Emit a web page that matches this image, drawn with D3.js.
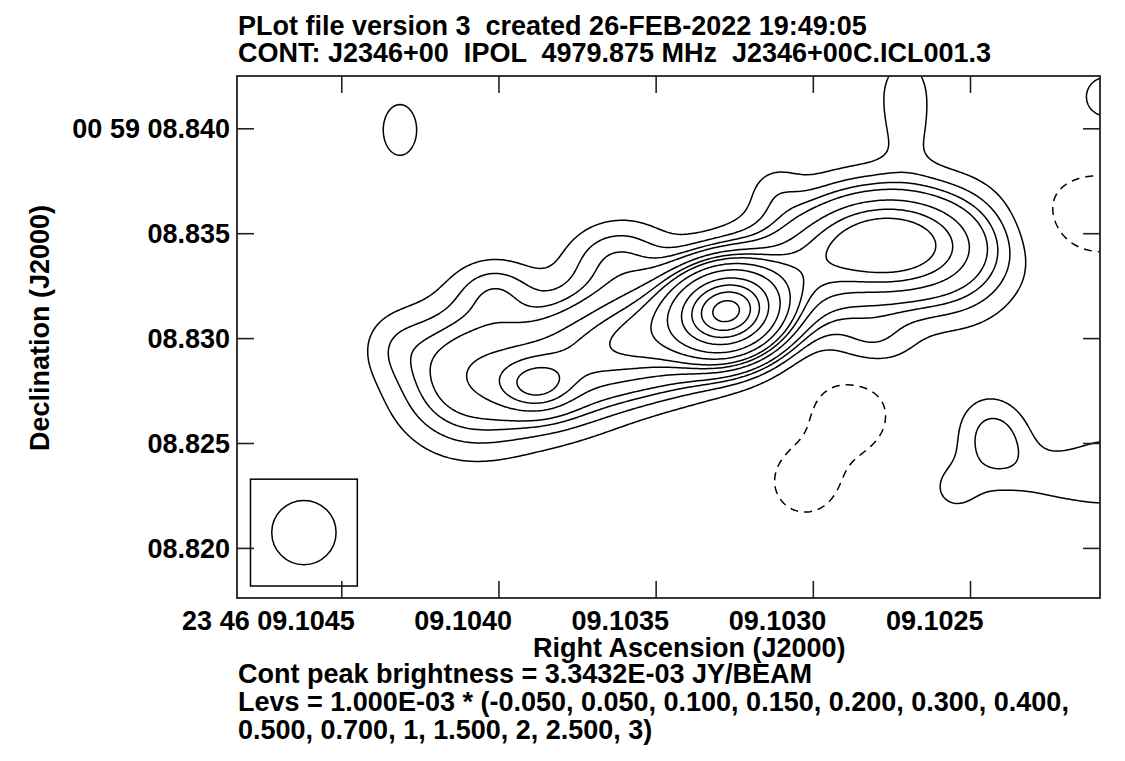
<!DOCTYPE html>
<html><head><meta charset="utf-8">
<script src="https://cdn.jsdelivr.net/npm/d3@7"></script>
<style>
body{margin:0;background:#fff}
text{font-family:"Liberation Sans",Arial,Helvetica,sans-serif;font-weight:bold;font-size:27px;fill:#000;white-space:pre}
</style></head><body>
<svg id="c" width="1125" height="761"></svg>
<script>
// ---------- data ----------
const titleLines = ["PLot file version 3  created 26-FEB-2022 19:49:05",
                    "CONT: J2346+00  IPOL  4979.875 MHz  J2346+00C.ICL001.3"];
const footLines = ["Cont peak brightness = 3.3432E-03 JY/BEAM",
                   "Levs = 1.000E-03 * (-0.050, 0.050, 0.100, 0.150, 0.200, 0.300, 0.400,",
                   "0.500, 0.700, 1, 1.500, 2, 2.500, 3)"];
const xTitle = "Right Ascension (J2000)";
const yTitle = "Declination (J2000)";
const raTicks = [9.1045, 9.1040, 9.1035, 9.1030, 9.1025];          // seconds of RA (23h46m)
const raTickLabels = ["23 46 09.1045", "09.1040", "09.1035", "09.1030", "09.1025"];
const decTicks = [8.840, 8.835, 8.830, 8.825, 8.820];              // arcsec of Dec (00d59')
const decTickLabels = ["00 59 08.840", "08.835", "08.830", "08.825", "08.820"];
const raRange = [9.1048317, 9.1020865];
const decRange = [8.817612, 8.842493];
const decDeg = 59/60 + 8.83/3600;
const coreRA = 9.1032732, coreDec = 8.8312917;
const levels = [-0.05, 0.05, 0.1, 0.15, 0.2, 0.3, 0.4, 0.5, 0.7, 1, 1.5, 2, 2.5, 3]; // x 1e-3 Jy/beam
const beamMaj = 3.07, beamMin = 3.07, beamPA = 0; // mas
// source model components: offsets from core (mas, east / north), sigma (mas), PA (deg), amplitude (mJy/beam)
const compAmp = [2.75, 0.40, 0.26, 0.25, 0.15, 0.24, 0.25, 0.10, 0.12, 0.18, 0.33, 0.32, 0.06, 0.05, 0.07, 0.04, 0.065, 0.07, 0.13, 0.06, 0.065, 0.07, -0.10, -0.09, -0.085, 0.08, 0.05];
const compDx  = [0, 0.72, 12.26, 9.07, 8.68, 6.30, 3.44, 11.07, 5.34, -3.01, -7.49, -7.78, -11.35, -2.29, -8.49, -8.59, 15.60, -18.08, -12.79, -10.88, -15.89, -18.51, -17.70, -5.87, -3.72, -6.92, 15.84];
const compDy  = [0, -0.33, -3.10, -3.57, -2.91, -1.76, -0.91, 1.00, 2.67, 1.38, 3.24, 3.05, 1.95, 5.77, 10.53, 8.39, 8.63, 10.20, -6.15, -8.44, -7.86, -7.58, 4.62, -4.96, -8.15, -1.38, -1.62];
const compMaj = [1.48, 2.86, 2.29, 1.19, 2.15, 2.15, 2.15, 1.34, 1.67, 1.91, 2.62, 3.10, 2.15, 0.95, 1.43, 1.19, 1.67, 1.14, 1.43, 1.05, 1.67, 1.43, 2.29, 1.57, 1.38, 1.43, 1.19];
const compMin = [1.19, 1.67, 2.19, 0.86, 1.91, 1.81, 1.67, 1.05, 1.19, 1.53, 1.53, 1.91, 1.91, 0.95, 1.05, 0.95, 1.10, 1.14, 1.19, 1.05, 1.05, 1.43, 1.57, 1.57, 1.38, 1.05, 1.19];
const compPA  = [100, 110, 90, 90, 90, 115, 110, 90, 100, 110, 90, 92, 0, 0, 0, 0, 0, 0, 20, 0, 90, 0, 90, 0, 0, 90, 0];

// ---------- layout ----------
const W = 1125, H = 761;
const m = {l: 237, r: 1100, t: 76, b: 598};
const svg = d3.select("#c");
const x = d3.scaleLinear().domain(raRange).range([m.l, m.r]);
const y = d3.scaleLinear().domain(decRange).range([m.b, m.t]);
const cosd = Math.cos(decDeg * Math.PI / 180);

// ---------- model image ----------
const step = 2, pad = 24;
const nx = Math.ceil((m.r - m.l + 2 * pad) / step), ny = Math.ceil((m.b - m.t + 2 * pad) / step);
const comps = compAmp.map((a, i) => {
  const t = compPA[i] * Math.PI / 180;
  return {a, dx: compDx[i], dy: compDy[i], s: Math.sin(t), c: Math.cos(t),
          k1: 1 / (2 * compMaj[i] * compMaj[i]), k2: 1 / (2 * compMin[i] * compMin[i])};
});
const values = new Float64Array(nx * ny);
for (let j = 0; j < ny; j++) {
  const py = m.t - pad + (j + 0.5) * step;
  const north = (y.invert(py) - coreDec) * 1000;
  for (let i = 0; i < nx; i++) {
    const px = m.l - pad + (i + 0.5) * step;
    const east = (x.invert(px) - coreRA) * 15000 * cosd;
    let v = 0;
    for (const q of comps) {
      const ex = east - q.dx, ey = north - q.dy;
      const u = ex * q.s + ey * q.c, w = ex * q.c - ey * q.s;
      v += q.a * Math.exp(-(u * u * q.k1 + w * w * q.k2));
    }
    values[j * nx + i] = v;
  }
}
const contours = d3.contours().size([nx, ny]).thresholds(levels)(values);
const proj = d3.geoTransform({point(gx, gy) { this.stream.point(m.l - pad + gx * step, m.t - pad + gy * step); }});
const path = d3.geoPath(proj);

svg.append("clipPath").attr("id", "frameclip").append("rect")
  .attr("x", m.l).attr("y", m.t).attr("width", m.r - m.l).attr("height", m.b - m.t);

svg.append("g").attr("clip-path", "url(#frameclip)")
  .selectAll("path").data(contours).join("path")
  .attr("d", path).attr("fill", "none").attr("stroke", "#000").attr("stroke-width", 1.5)
  .attr("stroke-linejoin", "round")
  .attr("stroke-dasharray", d => d.value < 0 ? "8,6" : null);

// ---------- axes ----------
const tick = 17;
const gB = svg.append("g").attr("transform", `translate(0,${m.b})`)
  .call(d3.axisBottom(x).tickValues(raTicks).tickSizeInner(-tick).tickSizeOuter(0)
        .tickFormat((d, i) => raTickLabels[i]));
gB.selectAll("text").attr("y", 32).attr("dy", null).attr("x", 13).attr("text-anchor", "end");
const gT = svg.append("g").attr("transform", `translate(0,${m.t})`)
  .call(d3.axisTop(x).tickValues(raTicks).tickSizeInner(-tick).tickSizeOuter(0).tickFormat(""));
const gL = svg.append("g").attr("transform", `translate(${m.l},0)`)
  .call(d3.axisLeft(y).tickValues(decTicks).tickSizeInner(-tick).tickSizeOuter(0)
        .tickFormat((d, i) => decTickLabels[i]));
gL.selectAll("text").attr("x", -7).attr("dy", "0.35em");
const gR = svg.append("g").attr("transform", `translate(${m.r},0)`)
  .call(d3.axisRight(y).tickValues(decTicks).tickSizeInner(-tick).tickSizeOuter(0).tickFormat(""));
[gB, gT, gL, gR].forEach(g => {
  g.select(".domain").remove();
  g.selectAll("line").attr("stroke", "#222").attr("stroke-width", 1.6);
  g.selectAll("text").attr("font-family", null).attr("font-size", null).attr("fill", "#000");
});
svg.append("rect").attr("x", m.l).attr("y", m.t).attr("width", m.r - m.l).attr("height", m.b - m.t)
  .attr("fill", "none").attr("stroke", "#222").attr("stroke-width", 1.8);

// ---------- beam ----------
const pxPerMas = Math.abs(x(coreRA - 1 / (15000 * cosd)) - x(coreRA));
const bR = beamMaj / 2 * pxPerMas;
const half = bR * 1.66;
const bcx = m.l + 13.5 + half, bcy = m.b - 12 - half;
svg.append("rect").attr("x", bcx - half).attr("y", bcy - half).attr("width", 2 * half).attr("height", 2 * half)
  .attr("fill", "none").attr("stroke", "#000").attr("stroke-width", 1.5);
svg.append("ellipse").attr("cx", bcx).attr("cy", bcy)
  .attr("rx", beamMin / 2 * pxPerMas).attr("ry", beamMaj / 2 * pxPerMas)
  .attr("transform", `rotate(${-beamPA},${bcx},${bcy})`)
  .attr("fill", "none").attr("stroke", "#000").attr("stroke-width", 1.5);

// ---------- texts ----------
svg.selectAll("text.title").data(titleLines).join("text").attr("class", "title")
  .attr("x", 238).attr("y", (d, i) => 35 + i * 27).text(d => d);
svg.selectAll("text.foot").data(footLines).join("text").attr("class", "foot")
  .attr("x", 238).attr("y", (d, i) => 683 + i * 28).text(d => d);
svg.append("text").attr("x", 533).attr("y", 657).text(xTitle);
svg.append("text").attr("transform", "translate(49,328) rotate(-90)").attr("text-anchor", "middle").text(yTitle);
</script></body></html>
